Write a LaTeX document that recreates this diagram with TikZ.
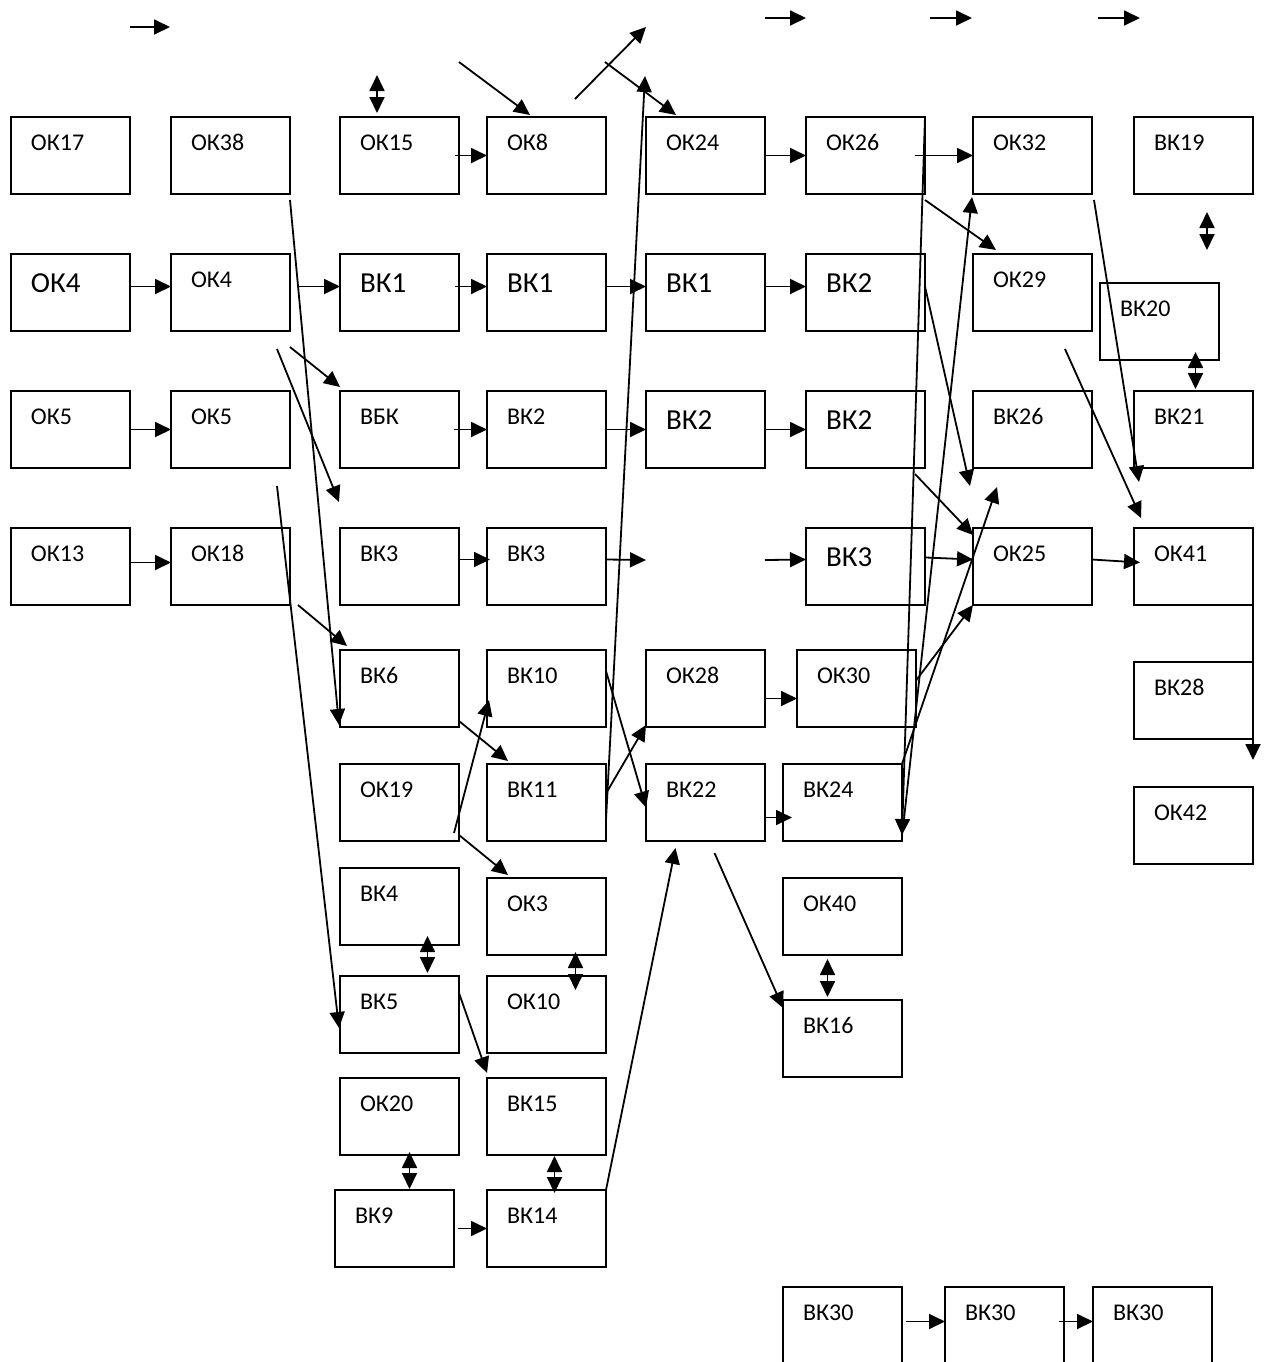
\documentclass[tikz,border=0pt]{standalone}
\usepackage{fontspec}
\setmainfont{Carlito}
\usetikzlibrary{arrows.meta}

\begin{document}
\begin{tikzpicture}[
        x=0.5pt, y=-0.5pt,
        >={Triangle[length=8pt,width=7.5pt]}
    ]
    %\usetikzlibrary{arrows.meta}

    \tikzstyle{block} = [
        draw, line width=1pt,
        anchor=north west, outer sep=0pt,
        inner xsep=10pt, inner ysep=0pt,
        text width=39.5pt, align=left,
        text height=16.75pt, text depth=21.75pt,
        font=\fontsize{12}{14}\selectfont
    ]
    \tikzstyle{big} = [
        block,
        text height=19pt, text depth=19.5pt,
        font=\fontsize{14.5}{17}\selectfont
    ]
    \tikzstyle{link} = [->, line width=0.9pt]
    \tikzstyle{both} = [<->, line width=0.9pt]

    \useasboundingbox (0,0) rectangle (1267,1362);

    % row 1
    \node [block] (ok17) at (11,117) {ОК17};
    \node [block] (ok38) at (171,117) {ОК38};
    \node [block] (ok15) at (340,117) {ОК15};
    \node [block] (ok8) at (487,117) {ОК8};
    \node [block] (ok24) at (646,117) {ОК24};
    \node [block] (ok26) at (806,117) {ОК26};
    \node [block] (ok32) at (973,117) {ОК32};
    \node [block] (vk19) at (1134,117) {ВК19};

    % row 2
    \node [big] (ok4a) at (11,254) {ОК4};
    \node [block] (ok4b) at (171,254) {ОК4};
    \node [big] (vk1a) at (340,254) {ВК1};
    \node [big] (vk1b) at (487,254) {ВК1};
    \node [big] (vk1c) at (646,254) {ВК1};
    \node [big] (vk2a) at (806,254) {ВК2};
    \node [block] (ok29) at (973,254) {ОК29};
    \node [block] (vk20) at (1100,283) {ВК20};

    % row 3
    \node [block] (ok5a) at (11,391) {ОК5};
    \node [block] (ok5b) at (171,391) {ОК5};
    \node [block] (vbk) at (340,391) {ВБК};
    \node [block] (vk2b) at (487,391) {ВК2};
    \node [big] (vk2c) at (646,391) {ВК2};
    \node [big] (vk2d) at (806,391) {ВК2};
    \node [block] (vk26) at (973,391) {ВК26};
    \node [block] (vk21) at (1134,391) {ВК21};

    % row 4
    \node [block] (ok13) at (11,528) {ОК13};
    \node [block] (ok18) at (171,528) {ОК18};
    \node [block] (vk3a) at (340,528) {ВК3};
    \node [block] (vk3b) at (487,528) {ВК3};
    \node [big] (vk3c) at (806,528) {ВК3};
    \node [block] (ok25) at (973,528) {ОК25};
    \node [block] (ok41) at (1134,528) {ОК41};

    % lower part
    \node [block] (vk6) at (340,650) {ВК6};
    \node [block] (vk10) at (487,650) {ВК10};
    \node [block] (ok28) at (646,650) {ОК28};
    \node [block] (ok30) at (797,650) {ОК30};
    \node [block] (vk28) at (1134,662) {ВК28};
    \node [block] (ok19) at (340,764) {ОК19};
    \node [block] (vk11) at (487,764) {ВК11};
    \node [block] (vk22) at (646,764) {ВК22};
    \node [block] (vk24) at (783,764) {ВК24};
    \node [block] (ok42) at (1134,787) {ОК42};
    \node [block] (vk4) at (340,868) {ВК4};
    \node [block] (ok3) at (487,878) {ОК3};
    \node [block] (ok40) at (783,878) {ОК40};
    \node [block] (vk5) at (340,976) {ВК5};
    \node [block] (ok10) at (487,976) {ОК10};
    \node [block] (vk16) at (783,1000) {ВК16};
    \node [block] (ok20) at (340,1078) {ОК20};
    \node [block] (vk15) at (487,1078) {ВК15};
    \node [block] (vk9) at (335,1190) {ВК9};
    \node [block] (vk14) at (487,1190) {ВК14};
    \node [block] (vk30a) at (783,1287) {ВК30};
    \node [block] (vk30b) at (945,1287) {ВК30};
    \node [block] (vk30c) at (1093,1287) {ВК30};

    % loose ends
    \coordinate (s1) at (130,27);  \coordinate (e1) at (170,27);
    \coordinate (s2) at (765,18);  \coordinate (e2) at (806,18);
    \coordinate (s3) at (930,18);  \coordinate (e3) at (972,18);
    \coordinate (s4) at (1098,18); \coordinate (e4) at (1140,18);
    \coordinate (d1a) at (377,75); \coordinate (d1b) at (377,113);
    \coordinate (d2a) at (1207,212); \coordinate (d2b) at (1207,250);
    \coordinate (s6) at (459,62);
    \coordinate (s7) at (575,99);  \coordinate (e7) at (646,27);
    \coordinate (s8) at (605,62);
    \coordinate (e9) at (645,76);
    \coordinate (e39) at (646,560); \coordinate (s40) at (765,560);

    \draw [link] (s1) -- (e1);
    \draw [link] (s2) -- (e2);
    \draw [link] (s3) -- (e3);
    \draw [link] (s4) -- (e4);
    \draw [both] (d1a) -- (d1b);
    \draw [both] (d2a) -- (d2b);
    \draw [link] (s6) -- ([shift={(43,-2)}]ok8.north west);
    \draw [link] (s7) -- (e7);
    \draw [link] (s8) -- ([shift={(30,-2)}]ok24.north west);
    \draw [link] ([shift={(0,-21)}]vk11.south east) -- (e9);

    \draw [link] ([shift={(-4,0)}]ok15.east) -- (ok8.west);
    \draw [link] (ok24.east) -- (ok26.west);
    \draw [link] ([shift={(-10,0)}]ok26.east) -- (ok32.west);
    \draw [link] ([shift={(0,6)}]ok26.south east) -- ([shift={(23,-4)}]ok29.north west);
    \draw [link] ([shift={(1,-13)}]vk24.south east) -- ([shift={(-1,3)}]ok32.south west);
    \draw [link] (ok26.north east) -- ([shift={(0,-6)}]vk24.south east);
    \draw [link] (vk24.north east) -- ([shift={(24,19)}]vk26.south west);
    \draw [link] ([shift={(0,-8)}]ok30.east) -- (ok25.south west);
    \draw [link] ([shift={(1,-9)}]vk3c.east) -- ([shift={(0,-7)}]ok25.west);
    \draw [link] ([shift={(-10,6)}]vk2d.south east) -- ([shift={(0,7)}]ok25.north west);
    \draw [link] ([shift={(0,-6)}]vk2a.east) -- ([shift={(-3,18)}]vk26.south west);
    \draw [link] ([shift={(0,-7)}]ok25.east) -- ([shift={(6,-4)}]ok41.west);
    \draw [link] ([shift={(2,6)}]ok32.south east) -- ([shift={(5,14)}]vk21.south west);
    \draw [link] ([shift={(-27,18)}]ok29.south east) -- ([shift={(7,-10)}]ok41.north west);
    \draw [both] ([shift={(36,-8)}]vk20.south) -- ([shift={(2,-2)}]vk21.north);
    \draw [link] ([shift={(0,-4)}]ok41.east) -- ([shift={(0,21)}]vk28.south east);

    \draw [link] ([shift={(0,-6)}]ok4a.east) -- ([shift={(0,-6)}]ok4b.west);
    \draw [link] ([shift={(8,-6)}]ok4b.east) -- ([shift={(0,-6)}]vk1a.west);
    \draw [link] ([shift={(-4,-6)}]vk1a.east) -- ([shift={(0,-6)}]vk1b.west);
    \draw [link] ([shift={(0,-6)}]vk1b.east) -- ([shift={(0,-6)}]vk1c.west);
    \draw [link] ([shift={(0,-6)}]vk1c.east) -- ([shift={(0,-6)}]vk2a.west);
    \draw [link] (ok5a.east) -- (ok5b.west);
    \draw [link] ([shift={(-5,0)}]vbk.east) -- (vk2b.west);
    \draw [link] (vk2b.east) -- (vk2c.west);
    \draw [link] (vk2c.east) -- (vk2d.west);
    \draw [link] ([shift={(0,-4)}]ok13.east) -- ([shift={(0,-4)}]ok18.west);
    \draw [link] ([shift={(0,-7)}]vk3a.east) -- ([shift={(3,-7)}]vk3b.west);
    \draw [link] ([shift={(0,-7)}]vk3b.east) -- (e39);
    \draw [link] (s40) -- ([shift={(0,-7)}]vk3c.west);

    \draw [link] ([shift={(0,6)}]ok38.south east) -- ([shift={(-1,-2)}]vk6.south west);
    \draw [link] ([shift={(0,16)}]ok4b.south east) -- ([shift={(0,-4)}]vbk.north west);
    \draw [link] ([shift={(-13,18)}]ok4b.south east) -- ([shift={(-1,-26)}]vk3a.north west);
    \draw [link] ([shift={(-13,18)}]ok5b.south east) -- ([shift={(-1,-25)}]vk5.south west);
    \draw [link] ([shift={(8,0)}]ok18.south east) -- ([shift={(7,-4)}]vk6.north west);
    \draw [link] ([shift={(0,-6)}]vk6.south east) -- ([shift={(21,-3)}]vk11.north west);
    \draw [link] ([shift={(-5,-8)}]ok19.south east) -- ([shift={(2,-27)}]vk10.south west);
    \draw [link] ([shift={(0,-6)}]ok19.south east) -- ([shift={(21,-3)}]ok3.north west);
    \draw [link] ([shift={(0,21)}]vk10.north east) -- ([shift={(0,5)}]vk22.west);
    \draw [link] ([shift={(0,-9)}]vk11.east) -- ([shift={(0,-2)}]ok28.south west);
    \draw [both] ([shift={(28,-9)}]vk4.south) -- ([shift={(28,-3)}]vk5.north);
    \draw [both] ([shift={(29,-3)}]ok3.south) -- ([shift={(29,14)}]ok10.north);
    \draw [link] ([shift={(0,17)}]vk5.north east) -- ([shift={(0,-5)}]vk15.north west);
    \draw [both] ([shift={(10,-3)}]ok20.south) -- ([shift={(15,-1)}]vk9.north);
    \draw [both] ([shift={(8,1)}]vk15.south) -- ([shift={(8,3)}]vk14.north);
    \draw [link] ([shift={(4,0)}]vk9.east) -- (vk14.west);
    \draw [link] (vk14.north east) -- ([shift={(-30,7)}]vk22.south);
    \draw [link] ([shift={(9,12)}]vk22.south) -- ([shift={(0,8)}]vk16.north west);
    \draw [both] ([shift={(-15,4)}]ok40.south) -- ([shift={(-15,-3)}]vk16.north);
    \draw [link] ([shift={(0,10)}]ok28.east) -- ([shift={(0,10)}]ok30.west);
    \draw [link] ([shift={(0,15)}]vk22.east) -- ([shift={(9,15)}]vk24.west);
    \draw [link] ([shift={(4,-4)}]vk30a.east) -- ([shift={(0,-4)}]vk30b.west);
    \draw [link] ([shift={(-5,-4)}]vk30b.east) -- ([shift={(0,-4)}]vk30c.west);
\end{tikzpicture}
\end{document}
